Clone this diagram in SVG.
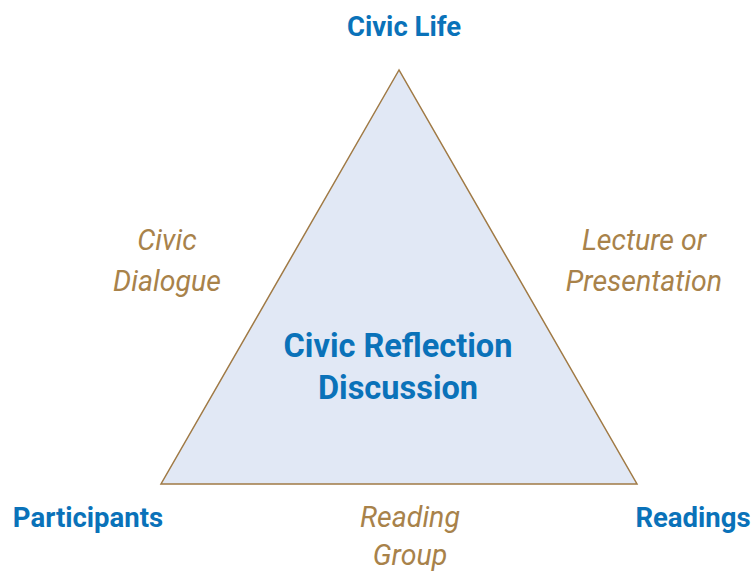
<svg xmlns="http://www.w3.org/2000/svg" width="755" height="573" viewBox="0 0 755 573">
  <style>
    .corner { font-family: Roboto, "Liberation Sans", sans-serif; font-weight: bold; fill: #0a72b9; font-size: 27.5px; }
    .center { font-family: Roboto, "Liberation Sans", sans-serif; font-weight: bold; fill: #0a72b9; font-size: 32.5px; }
    .side { font-family: Roboto, "Liberation Sans", sans-serif; font-style: italic; fill: #a8824a; font-size: 28.5px; }
    .tri { fill: #e1e8f5; stroke: #a07a45; stroke-width: 1.5; }
  </style>
  <g id="connectors">
    <polygon class="tri" points="399,70 161,484 637,484"/>
  </g>
  <g id="civic-reflection">
    <text class="center" x="398" y="357" text-anchor="middle">Civic Reflection</text>
    <text class="center" x="398" y="399" text-anchor="middle">Discussion</text>
  </g>
  <g id="civic-life">
    <text class="corner" x="404" y="36" text-anchor="middle">Civic Life</text>
  </g>
  <g id="participants">
    <text class="corner" x="88" y="527" text-anchor="middle">Participants</text>
  </g>
  <g id="readings">
    <text class="corner" x="693" y="527" text-anchor="middle">Readings</text>
  </g>
  <g id="civic-dialogue">
    <text class="side" x="167" y="250" text-anchor="middle">Civic</text>
    <text class="side" x="167" y="291" text-anchor="middle">Dialogue</text>
  </g>
  <g id="lecture">
    <text class="side" x="644" y="250" text-anchor="middle">Lecture or</text>
    <text class="side" x="644" y="291" text-anchor="middle">Presentation</text>
  </g>
  <g id="reading-group">
    <text class="side" x="410" y="527" text-anchor="middle">Reading</text>
    <text class="side" x="410" y="565" text-anchor="middle">Group</text>
  </g>
</svg>
